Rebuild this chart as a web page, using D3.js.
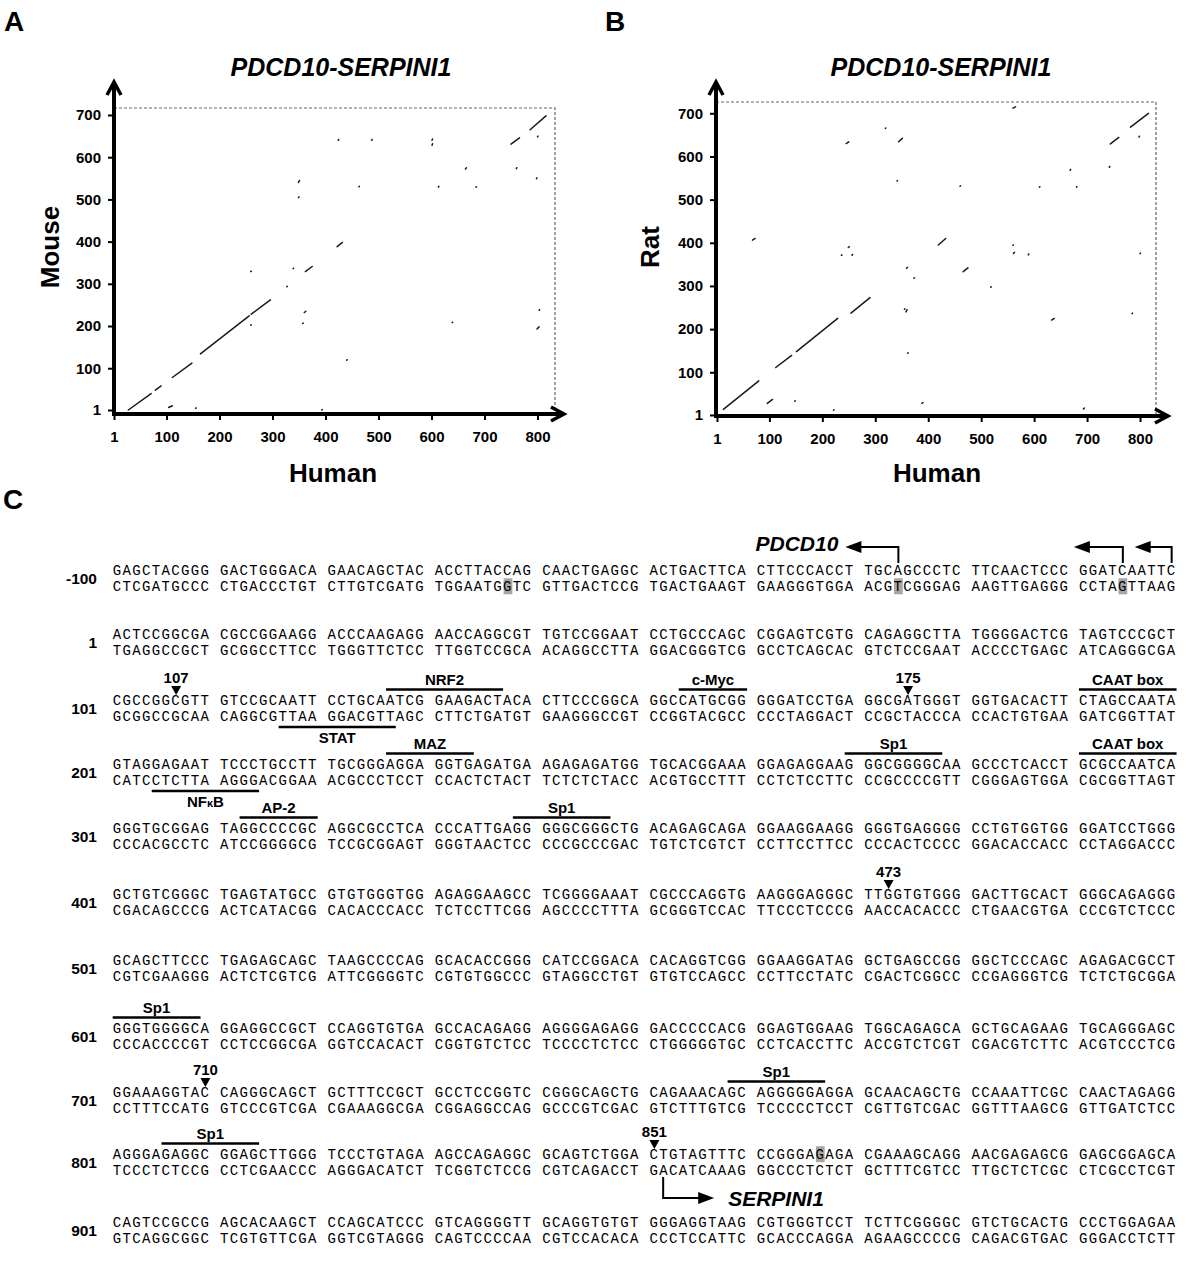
<!DOCTYPE html>
<html>
<head>
<meta charset="utf-8">
<script src="https://cdn.jsdelivr.net/npm/d3@7"></script>
<style>
  body { margin: 0; background: #fff; }
  svg text { font-family: Arial, "Liberation Sans", sans-serif; }
  .seq { font-family: "Courier New", "Liberation Mono", monospace; font-size: 14px; letter-spacing: 1.36px; }
</style>
</head>
<body>
<div id="fig"></div>
<script>
// ---- dot plot data (human position, other species position) ----
const xTicks = [1, 100, 200, 300, 400, 500, 600, 700, 800]
const yTicks = [1, 100, 200, 300, 400, 500, 600, 700]

// mouse vs human: [x1, y1, x2, y2]
const mouseSegs = [
  [28, 1, 71, 40], [79, 48, 90, 58], [111, 78, 148, 112], [164, 134, 256, 224],
  [260, 228, 296, 262], [362, 329, 375, 341], [422, 388, 432, 398],
  [750, 631, 766, 646], [786, 665, 816, 698],
  [104, 7, 111, 11], [155, 5, 156, 6], [393, 1, 394, 2], [259, 202, 260, 203],
  [259, 329, 260, 330], [327, 293, 328, 294], [339, 336, 340, 337], [357, 206, 358, 207],
  [360, 232, 363, 235], [440, 119, 441, 120], [349, 504, 350, 506], [349, 540, 351, 545],
  [424, 640, 425, 642], [487, 640, 488, 642], [601, 628, 602, 632], [601, 640, 602, 643],
  [613, 529, 614, 531], [463, 530, 464, 531], [684, 529, 685, 530], [664, 572, 666, 575],
  [760, 573, 761, 575], [798, 549, 799, 551], [800, 648, 801, 650], [639, 208, 640, 209],
  [799, 193, 803, 198], [803, 237, 804, 239]
]

// rat vs human
const ratSegs = [
  [13, 14, 80, 80], [112, 111, 142, 139], [151, 148, 229, 225], [254, 237, 290, 273],
  [419, 395, 433, 410], [744, 629, 760, 644], [782, 668, 816, 700],
  [68, 406, 73, 410], [245, 630, 250, 634], [344, 634, 351, 642], [319, 665, 320, 666],
  [560, 712, 565, 715], [249, 389, 251, 391], [256, 371, 257, 373], [236, 371, 237, 372],
  [359, 341, 361, 343], [373, 318, 374, 319], [358, 240, 360, 245], [355, 246, 356, 247],
  [361, 144, 362, 145], [96, 28, 106, 37], [148, 33, 149, 34], [221, 12, 222, 13],
  [388, 28, 390, 30], [693, 15, 695, 17], [633, 221, 638, 225], [785, 236, 786, 237],
  [466, 333, 475, 342], [561, 375, 563, 378], [560, 394, 561, 395], [589, 372, 590, 374],
  [518, 297, 519, 298], [800, 375, 801, 376], [460, 531, 461, 532], [610, 529, 611, 530],
  [680, 529, 681, 530], [668, 568, 669, 570], [742, 575, 743, 577], [341, 543, 342, 544],
  [798, 645, 799, 647]
]

// ---- sequence data ----
const rowLabels = ['-100', '1', '101', '201', '301', '401', '501', '601', '701', '801', '901']
const topStrand = [
  'GAGCTACGGG GACTGGGACA GAACAGCTAC ACCTTACCAG CAACTGAGGC ACTGACTTCA CTTCCCACCT TGCAGCCCTC TTCAACTCCC GGATCAATTC',
  'ACTCCGGCGA CGCCGGAAGG ACCCAAGAGG AACCAGGCGT TGTCCGGAAT CCTGCCCAGC CGGAGTCGTG CAGAGGCTTA TGGGGACTCG TAGTCCCGCT',
  'CGCCGGCGTT GTCCGCAATT CCTGCAATCG GAAGACTACA CTTCCCGGCA GGCCATGCGG GGGATCCTGA GGCGATGGGT GGTGACACTT CTAGCCAATA',
  'GTAGGAGAAT TCCCTGCCTT TGCGGGAGGA GGTGAGATGA AGAGAGATGG TGCACGGAAA GGAGAGGAAG GGCGGGGCAA GCCCTCACCT GCGCCAATCA',
  'GGGTGCGGAG TAGGCCCCGC AGGCGCCTCA CCCATTGAGG GGGCGGGCTG ACAGAGCAGA GGAAGGAAGG GGGTGAGGGG CCTGTGGTGG GGATCCTGGG',
  'GCTGTCGGGC TGAGTATGCC GTGTGGGTGG AGAGGAAGCC TCGGGGAAAT CGCCCAGGTG AAGGGAGGGC TTGGTGTGGG GACTTGCACT GGGCAGAGGG',
  'GCAGCTTCCC TGAGAGCAGC TAAGCCCCAG GCACACCGGG CATCCGGACA CACAGGTCGG GGAAGGATAG GCTGAGCCGG GGCTCCCAGC AGAGACGCCT',
  'GGGTGGGGCA GGAGGCCGCT CCAGGTGTGA GCCACAGAGG AGGGGAGAGG GACCCCCACG GGAGTGGAAG TGGCAGAGCA GCTGCAGAAG TGCAGGGAGC',
  'GGAAAGGTAC CAGGGCAGCT GCTTTCCGCT GCCTCCGGTC CGGGCAGCTG CAGAAACAGC AGGGGGAGGA GCAACAGCTG CCAAATTCGC CAACTAGAGG',
  'AGGGAGAGGC GGAGCTTGGG TCCCTGTAGA AGCCAGAGGC GCAGTCTGGA CTGTAGTTTC CCGGGAGAGA CGAAAGCAGG AACGAGAGCG GAGCGGAGCA',
  'CAGTCCGCCG AGCACAAGCT CCAGCATCCC GTCAGGGGTT GCAGGTGTGT GGGAGGTAAG CGTGGGTCCT TCTTCGGGGC GTCTGCACTG CCCTGGAGAA'
]

// binding sites: name, first nt, last nt, strand
const siteNames = ['NRF2', 'c-Myc', 'CAAT box', 'STAT', 'MAZ', 'NFκB', 'Sp1', 'CAAT box', 'AP-2', 'Sp1', 'Sp1', 'Sp1', 'Sp1']
const siteFrom  = [127, 154, 191, 117, 227, 205, 270, 291, 313, 339, 601, 759, 806]
const siteTo    = [137, 160, 200, 127, 234, 214, 278, 300, 320, 347, 609, 767, 814]
const siteStrand = ['top', 'top', 'top', 'bottom', 'top', 'bottom', 'top', 'top', 'top', 'top', 'top', 'top', 'top']

// numbered positions marked with a triangle
const markers = [107, 175, 473, 710, 851]

// shaded bases: nt, strand
const shadeNt = [-63, -27, -6, 867]
const shadeStrand = ['bottom', 'bottom', 'bottom', 'top']

// transcription start arrows
const pdcd10Starts = [-27, -6, -1]
const serpinStart = 851

// ---- layout ----
const W = 1200, H = 1267
const rowY = [578, 642, 708, 772, 836, 902, 968, 1036, 1100, 1162, 1230]
const x0 = 112.7, cw = 9.76

const svg = d3.select('#fig').append('svg').attr('width', W).attr('height', H)

function dotPlot(cfg, segs) {
  const g = svg.append('g')
  const x = d3.scaleLinear().domain([1, 800]).range([cfg.xLo, cfg.xHi])
  const y = d3.scaleLinear().domain([1, 700]).range([cfg.yLo, cfg.yHi])

  g.append('text').attr('x', cfg.letterX).attr('y', 31)
    .attr('font-size', 28).attr('font-weight', 'bold').text(cfg.letter)
  g.append('text').attr('x', cfg.titleX).attr('y', 76).attr('text-anchor', 'middle')
    .attr('font-size', 25).attr('font-weight', 'bold').attr('font-style', 'italic')
    .text('PDCD10-SERPINI1')

  // dashed frame
  g.append('path')
    .attr('d', `M${cfg.axisX},${cfg.frameTop}H${cfg.frameRight}V${cfg.axisY}`)
    .attr('fill', 'none').attr('stroke', '#666').attr('stroke-width', 1.2)
    .attr('stroke-dasharray', '3,2')

  g.selectAll('line.seg').data(segs).join('line')
    .attr('class', 'seg')
    .attr('x1', d => x(d[0])).attr('y1', d => y(d[1]))
    .attr('x2', d => x(d[2])).attr('y2', d => y(d[3]))
    .attr('stroke', '#1a1a1a').attr('stroke-width', 1.5).attr('stroke-linecap', 'round')

  const ya = g.append('g').attr('transform', `translate(${cfg.axisX},0)`)
    .call(d3.axisLeft(y).tickValues(yTicks).tickSize(6).tickPadding(7).tickFormat(d3.format('d')))
  const xa = g.append('g').attr('transform', `translate(0,${cfg.axisY})`)
    .call(d3.axisBottom(x).tickValues(xTicks).tickSize(6).tickPadding(11).tickFormat(d3.format('d')))
  for (const a of [ya, xa]) {
    a.select('.domain').remove()
    a.selectAll('.tick line').attr('stroke', '#000').attr('stroke-width', 2)
    a.selectAll('.tick text').attr('font-size', 15).attr('font-weight', 'bold')
      .attr('font-family', 'Arial, "Liberation Sans", sans-serif').attr('fill', '#000')
  }

  // thick axes with open arrowheads
  g.append('path')
    .attr('d', `M${cfg.axisX},${cfg.axisY + 2}V${cfg.tipY + 2}M${cfg.axisX - 2},${cfg.axisY}H${cfg.tipX - 2}`)
    .attr('stroke', '#000').attr('stroke-width', 4).attr('fill', 'none')
  g.append('path')
    .attr('d', `M${cfg.axisX - 7},${cfg.tipY + 13}L${cfg.axisX},${cfg.tipY}L${cfg.axisX + 7},${cfg.tipY + 13}` +
               `M${cfg.tipX - 13},${cfg.axisY - 7}L${cfg.tipX},${cfg.axisY}L${cfg.tipX - 13},${cfg.axisY + 7}`)
    .attr('stroke', '#000').attr('stroke-width', 3.5).attr('fill', 'none')

  g.append('text').attr('x', cfg.xLabelX).attr('y', 482).attr('text-anchor', 'middle')
    .attr('font-size', 26).attr('font-weight', 'bold').text('Human')
  g.append('text').attr('transform', `translate(${cfg.yLabelX},247) rotate(-90)`)
    .attr('text-anchor', 'middle').attr('dy', '0.35em')
    .attr('font-size', 26).attr('font-weight', 'bold').text(cfg.yLabel)
}

dotPlot({
  letter: 'A', letterX: 4, titleX: 341, xLo: 114, xHi: 537.5, yLo: 410, yHi: 115,
  axisX: 114, axisY: 414, frameTop: 108, frameRight: 555, tipY: 82, tipX: 564,
  xLabelX: 333, yLabelX: 50, yLabel: 'Mouse'
}, mouseSegs)

dotPlot({
  letter: 'B', letterX: 605, titleX: 941, xLo: 717, xHi: 1140, yLo: 415, yHi: 113.3,
  axisX: 716, axisY: 416, frameTop: 102, frameRight: 1156, tipY: 82, tipX: 1168,
  xLabelX: 937, yLabelX: 650, yLabel: 'Rat'
}, ratSegs)

// ---- panel C ----
svg.append('text').attr('x', 3).attr('y', 509)
  .attr('font-size', 28).attr('font-weight', 'bold').text('C')

const comp = { A: 'T', T: 'A', G: 'C', C: 'G', ' ': ' ' }
const colX = d3.scaleLinear().domain([0, 1]).range([x0, x0 + cw])
const slotX = i => colX(i + Math.floor(i / 10))
const locate = nt => nt < 0
  ? { row: 0, idx: nt + 100 }
  : { row: Math.floor((nt - 1) / 100) + 1, idx: (nt - 1) % 100 }
const strandY = (row, s) => rowY[row] + (s === 'top' ? -7.8 : 8.3)

// shaded bases (behind text)
svg.selectAll('rect.shade').data(shadeNt.map((nt, i) => ({ ...locate(nt), s: shadeStrand[i] })))
  .join('rect').attr('class', 'shade')
  .attr('x', d => slotX(d.idx) + 0.5).attr('width', cw - 1)
  .attr('y', d => strandY(d.row, d.s) - 8).attr('height', 16)
  .attr('fill', '#a6a6a6')

const rows = svg.selectAll('g.row').data(topStrand).join('g').attr('class', 'row')
rows.append('text').attr('x', 97).attr('y', (d, i) => rowY[i] + 5.5)
  .attr('text-anchor', 'end').attr('font-size', 15.5).attr('font-weight', 'bold')
  .text((d, i) => rowLabels[i])

rows.each(function (seq, r) {
  const groups = seq.split(' ')
  const bottom = seq.split('').map(c => comp[c]).join('').split(' ')
  const g = d3.select(this)
  g.selectAll('text.t').data(groups).join('text').attr('class', 'seq t')
    .attr('x', (d, j) => slotX(j * 10)).attr('y', rowY[r] - 3).text(d => d)
  g.selectAll('text.b').data(bottom).join('text').attr('class', 'seq b')
    .attr('x', (d, j) => slotX(j * 10)).attr('y', rowY[r] + 13).text(d => d)
})

// binding site bars
const sites = siteNames.map((name, i) => {
  const a = locate(siteFrom[i]), b = locate(siteTo[i])
  return { name, row: a.row, x1: slotX(a.idx), x2: slotX(b.idx) + cw, s: siteStrand[i] }
})
svg.selectAll('line.site').data(sites).join('line').attr('class', 'site')
  .attr('x1', d => d.x1).attr('x2', d => d.x2)
  .attr('y1', d => rowY[d.row] + (d.s === 'top' ? -18.5 : 19))
  .attr('y2', d => rowY[d.row] + (d.s === 'top' ? -18.5 : 19))
  .attr('stroke', '#000').attr('stroke-width', 2.6)
svg.selectAll('text.site').data(sites).join('text').attr('class', 'site')
  .attr('x', d => (d.x1 + d.x2) / 2)
  .attr('y', d => rowY[d.row] + (d.s === 'top' ? -23 : 35))
  .attr('text-anchor', 'middle').attr('font-size', 15).attr('font-weight', 'bold')
  .each(function (d) {
    const t = d3.select(this)
    if (d.name === 'NFκB') {
      t.append('tspan').text('NF')
      t.append('tspan').attr('font-size', 11).text('κ')
      t.append('tspan').text('B')
    } else t.text(d.name)
  })

// numbered triangles
const marks = markers.map(nt => ({ nt, ...locate(nt) }))
svg.selectAll('path.mark').data(marks).join('path').attr('class', 'mark')
  .attr('d', d => {
    const cx = slotX(d.idx) + cw / 2, ty = rowY[d.row] - 13
    return `M${cx - 5},${ty - 9}L${cx + 5},${ty - 9}L${cx},${ty}Z`
  })
svg.selectAll('text.mark').data(marks).join('text').attr('class', 'mark')
  .attr('x', d => slotX(d.idx) + cw / 2).attr('y', d => rowY[d.row] - 25)
  .attr('text-anchor', 'middle').attr('font-size', 15).attr('font-weight', 'bold')
  .text(d => d.nt)

// PDCD10 start arrows (pointing left, above row -100)
const arrowLen = [53, 49, 37]
pdcd10Starts.forEach((nt, i) => {
  const p = locate(nt), cx = slotX(p.idx) + cw / 2, c = rowY[p.row]
  const tip = cx - arrowLen[i]
  svg.append('path').attr('d', `M${cx},${c - 15}V${c - 31}H${tip + 14}`)
    .attr('fill', 'none').attr('stroke', '#000').attr('stroke-width', 2)
  svg.append('path').attr('d', `M${tip},${c - 31}L${tip + 16},${c - 37}L${tip + 16},${c - 25}Z`)
})
{
  const p = locate(pdcd10Starts[0]), c = rowY[p.row]
  svg.append('text').attr('x', slotX(p.idx) + cw / 2 - arrowLen[0] - 7).attr('y', c - 27)
    .attr('text-anchor', 'end').attr('font-size', 21).attr('font-weight', 'bold')
    .attr('font-style', 'italic').text('PDCD10')
}

// SERPINI1 start arrow (pointing right, below row 801)
{
  const p = locate(serpinStart), c = rowY[p.row]
  const sx = slotX(p.idx) + cw * 1.4, tip = sx + 51
  svg.append('path').attr('d', `M${sx},${c + 15}V${c + 36}H${tip - 14}`)
    .attr('fill', 'none').attr('stroke', '#000').attr('stroke-width', 2)
  svg.append('path').attr('d', `M${tip},${c + 36}L${tip - 16},${c + 30}L${tip - 16},${c + 42}Z`)
  svg.append('text').attr('x', tip + 14).attr('y', c + 44)
    .attr('font-size', 21).attr('font-weight', 'bold').attr('font-style', 'italic').text('SERPINI1')
}
</script>
</body>
</html>
